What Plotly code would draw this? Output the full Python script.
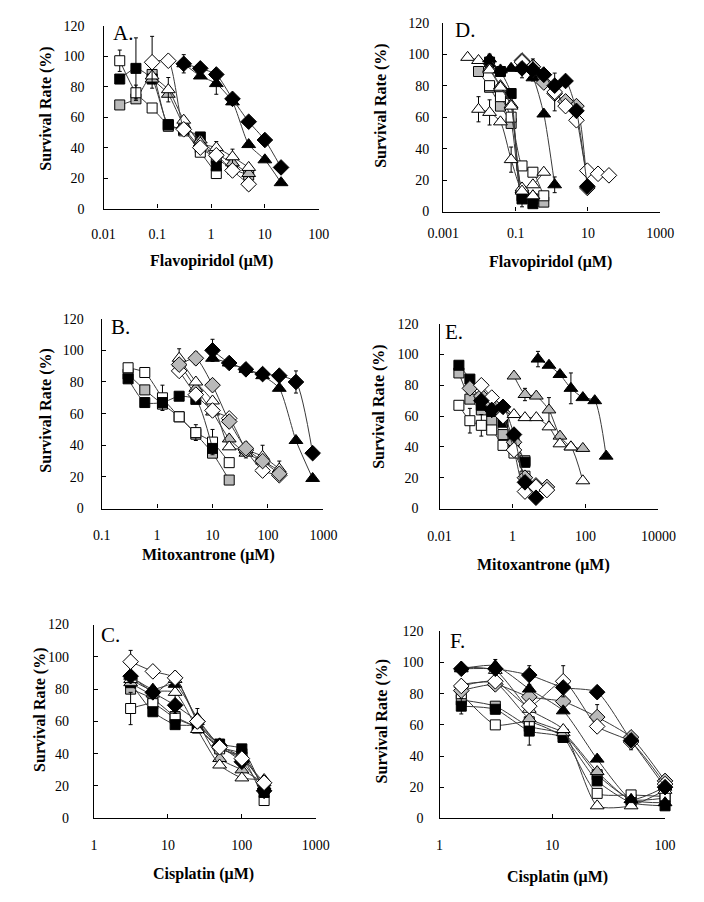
import plotly.graph_objects as go

W, H = 704, 902

# ---------------- data ----------------
# Panel A: Flavopiridol
A_conc = [0.02, 0.04, 0.08, 0.16, 0.31, 0.63, 1.25, 2.5, 5, 10, 20]
A_WS = [97, 76, 66, 55, 51, 37, 23, None, None, None, None]
A_BS = [85, 92, 85, 55, 52, 47, 28, None, None, None, None]
A_GS = [68, 72, 88, 54, 52, 40, 33, 26, 22, None, None]
A_WT = [None, None, 87, 78, 58, 43, 40, 34, 27, None, None]
A_GT = [None, None, 85, 75, 55, 45, 36, 30, 23, None, None]
A_WD = [None, None, 96, 97, 52, 40, 35, 25, 16, None, None]
A_BT = [None, None, None, None, 95, 87, 82, 70, 42, 32, 17]
A_BD = [None, None, None, None, 95, 92, 88, 72, 57, 45, 27]
A_WS_err = [7, 5, 0, 0, 0, 0, 0, 0, 0, 0, 0]
A_BS_err = [0, 20, 0, 0, 0, 0, 0, 0, 0, 0, 0]
A_WD_err = [0, 0, 17, 0, 0, 0, 0, 0, 4, 0, 0]
A_WT_err = [0, 0, 0, 8, 0, 6, 4, 5, 0, 0, 0]
A_BT_err = [0, 0, 0, 0, 6, 0, 7, 0, 0, 0, 0]

# Panel D: Flavopiridol
D_conc = [0.0047, 0.0094, 0.019, 0.038, 0.075, 0.15, 0.3, 0.6, 1.2, 2.4, 4.8, 9.6, 19, 38]
D_WT = [98, 96, 90, 79, 67, 15, 17, 25, None, None, None, None, None, None]
D_WT2 = [None, 65, 63, 57, 33, 13, 10, None, None, None, None, None, None, None]
D_GS = [None, 89, 79, 67, 56, 10, 8, 6, None, None, None, None, None, None]
D_WS = [None, None, 80, 73, 60, 29, 25, 10, None, None, None, None, None, None]
D_BS = [None, None, 95, 89, 75, 8, 5, None, None, None, None, None, None, None]
D_GT = [None, None, 91, 80, 68, 14, 10, None, None, None, None, None, None, None]
D_BT = [None, None, 97, 90, 91, 91, 85, 62, 17, None, None, None, None, None]
D_BD = [None, None, None, None, None, 91, 90, 87, 80, 83, 64, 16, None, None]
D_GD = [None, None, None, None, None, 96, 92, 82, 75, 70, 67, 15, None, None]
D_WD = [None, None, None, None, None, 95, 90, 87, 76, 67, 58, 26, 24, 23]
D_WT2_err = [0, 8, 8, 0, 8, 0, 0, 0, 0, 0, 0, 0, 0, 0]
D_BT_err = [0, 0, 3, 0, 0, 6, 0, 0, 5, 0, 0, 0, 0, 0]
D_WD_err = [0, 0, 0, 0, 0, 0, 7, 0, 12, 0, 0, 0, 0, 0]
D_BS_err = [0, 0, 0, 0, 0, 5, 0, 0, 0, 0, 0, 0, 0, 0]

# Panel B: Mitoxantrone
B_conc = [0.3, 0.6, 1.25, 2.5, 5, 10, 20, 40, 80, 160, 320, 640]
B_WS = [89, 86, 70, 58, 48, 42, 29, None, None, None, None, None]
B_BS = [82, 67, 67, 71, 69, 38, None, None, None, None, None, None]
B_GS = [85, 75, 66, 58, 47, 35, 18, None, None, None, None, None]
B_WT = [None, None, None, 95, 80, 68, 39, 37, 33, 25, None, None]
B_GT = [None, None, None, 92, 76, 61, 44, 35, 30, 24, None, None]
B_WD = [None, None, None, 87, 72, 62, 57, 37, 24, 21, None, None]
B_GD = [None, None, None, 91, 95, 78, 55, 38, 30, 22, None, None]
B_BD = [None, None, None, None, None, 100, 92, 88, 85, 84, 80, 35]
B_BT = [None, None, None, None, None, 95, 92, 88, 84, 76, 43, 19]
B_WS_err = [0, 0, 8, 0, 5, 8, 0, 0, 0, 0, 0, 0]
B_WT_err = [0, 0, 0, 6, 0, 0, 0, 5, 7, 5, 0, 0]
B_GD_err = [0, 0, 0, 0, 4, 0, 0, 0, 0, 0, 0, 0]
B_BD_err = [0, 0, 0, 0, 0, 7, 0, 0, 0, 0, 7, 0]

# Panel E: Mitoxantrone
E_conc_low = [0.034, 0.068, 0.14, 0.27, 0.55, 1.1, 2.2, 4.4, 8.8]
E_conc_tri = [1.1, 2.2, 4.5, 10, 20, 40, 85]
E_conc_bt = [5, 10, 20, 40, 85, 180, 370]
E_BS = [93, 84, 67, 63, 56, 46, 30, None, None]
E_GS = [88, 71, 64, 57, 48, 42, 31, None, None]
E_WS = [67, 57, 54, 51, 41, 36, 21, None, None]
E_BD = [None, None, 70, 64, 66, 48, 17, 7, None]
E_WD = [None, None, 80, 72, 60, 38, 11, 14, 12]
E_GD = [None, 78, 73, 68, 62, 43, 20, 15, 14]
E_WT = [61, 59, 59, 53, 42, 40, 18]
E_GT = [86, 74, 73, 64, 47, 40, 39]
E_BT = [97, 93, 87, 78, 72, 70, 34]
E_WS_err = [0, 8, 7, 0, 0, 0, 0, 0, 0]
E_GT_err = [0, 4, 0, 8, 0, 0, 0]
E_BT_err = [5, 0, 0, 10, 0, 0, 0]

# Panel C: Cisplatin
C_conc = [3.125, 6.25, 12.5, 25, 50, 100, 200]
C_WD = [97, 91, 87, 60, 44, 37, 22]
C_WS = [68, 71, 62, 56, 43, 38, 11]
C_BS = [84, 66, 58, 57, 46, 43, 16]
C_GS = [80, 74, 63, 56, 44, 40, 18]
C_BT = [88, 80, 83, 62, 45, 38, 20]
C_WT = [86, 79, 78, 55, 33, 25, 24]
C_GT = [84, 77, 86, 60, 37, 30, 22]
C_BD = [88, 78, 70, 60, 45, 35, 17]
C_WD_err = [7, 0, 0, 0, 0, 0, 0]
C_WS_err = [10, 0, 0, 0, 0, 0, 0]
C_WT_err = [0, 0, 13, 0, 0, 0, 0]
C_BT_err = [0, 0, 0, 6, 0, 0, 6]

# Panel F: Cisplatin
F_conc = [1.56, 3.125, 6.25, 12.5, 25, 50, 100]
F_BD = [96, 96, 92, 84, 81, 50, 20]
F_BT = [96, 98, 83, 69, 38, 12, 10]
F_WD = [85, 88, 72, 88, 59, 49, 22]
F_GD = [82, 86, 78, 75, 65, 52, 24]
F_BS = [72, 70, 56, 52, 24, 10, 8]
F_GS = [76, 72, 59, 54, 28, 12, 13]
F_WS = [80, 60, 62, 52, 16, 15, 14]
F_WT = [97, 95, 70, 57, 8, 8, 18]
F_GT = [86, 87, 64, 55, 30, 12, 20]
F_BT_err = [0, 4, 0, 0, 0, 0, 0]
F_BD_err = [0, 0, 6, 0, 0, 0, 0]
F_WD_err = [0, 0, 0, 10, 0, 5, 0]
F_BS_err = [5, 0, 9, 0, 0, 0, 0]
F_GD_err = [0, 0, 0, 0, 8, 0, 0]

# ---------------- styling ----------------
GRAY = "#b9b9b9"
STYLE = {
    "WS": ("square", "white", 10), "GS": ("square", GRAY, 10), "BS": ("square", "black", 10),
    "WT": ("triangle-up", "white", 12), "GT": ("triangle-up", GRAY, 12), "BT": ("triangle-up", "black", 12),
    "WD": ("diamond", "white", 12), "GD": ("diamond", GRAY, 12), "BD": ("diamond", "black", 12),
}

panels = [
    dict(name="A", x0=92, x1=318, yb=205, yt=19, rng=[-2, 2], tv=[0.01, 0.1, 1, 10, 100],
         tt=["0.01", "0.1", "1", "10", "100"], xt="Flavopiridol (μM)", xtpos=(205, 258), ytpos=(32, 103),
         letter=(100, 26), ystand=15, xstand=12,
         series=[(A_conc, A_GS, "GS", None), (A_conc, A_WS, "WS", A_WS_err), (A_conc, A_BS, "BS", A_BS_err),
                 (A_conc, A_GT, "GT", None), (A_conc, A_WT, "WT", A_WT_err), (A_conc, A_WD, "WD", A_WD_err),
                 (A_conc, A_BT, "BT", A_BT_err), (A_conc, A_BD, "BD", None)]),
    dict(name="D", x0=449, x1=677, yb=208, yt=16, rng=[-3, 3], tv=[0.001, 0.1, 10, 1000],
         tt=["0.001", "0.1", "10", "1000"], xt="Flavopiridol (μM)", xtpos=(562, 259), ytpos=(384, 100),
         letter=(459, 23), ystand=10, xstand=9,
         series=[(D_conc, D_GS, "GS", None), (D_conc, D_WS, "WS", None), (D_conc, D_BS, "BS", D_BS_err),
                 (D_conc, D_GT, "GT", None), (D_conc, D_WT, "WT", None), (D_conc, D_WT2, "WT", D_WT2_err),
                 (D_conc, D_BT, "BT", D_BT_err), (D_conc, D_GD, "GD", None), (D_conc, D_WD, "WD", D_WD_err),
                 (D_conc, D_BD, "BD", None)]),
    dict(name="B", x0=90, x1=323, yb=510, yt=317, rng=[-1, 3], tv=[0.1, 1, 10, 100, 1000],
         tt=["0.1", "1", "10", "100", "1000"], xt="Mitoxantrone (μM)", xtpos=(202, 557), ytpos=(32, 410),
         letter=(98, 325), ystand=14, xstand=14,
         series=[(B_conc, B_GS, "GS", None), (B_conc, B_WS, "WS", B_WS_err), (B_conc, B_BS, "BS", None),
                 (B_conc, B_GT, "GT", None), (B_conc, B_WT, "WT", B_WT_err), (B_conc, B_WD, "WD", None),
                 (B_conc, B_GD, "GD", B_GD_err), (B_conc, B_BT, "BT", None), (B_conc, B_BD, "BD", B_BD_err)]),
    dict(name="E", x0=445, x1=675, yb=510, yt=322, rng=[-2, 4], tv=[0.01, 1, 100, 10000],
         tt=["0.01", "1", "100", "10000"], xt="Mitoxantrone (μM)", xtpos=(554, 567), ytpos=(382, 407),
         letter=(449, 331), ystand=17, xstand=15,
         series=[(E_conc_low, E_GS, "GS", None), (E_conc_low, E_WS, "WS", E_WS_err), (E_conc_low, E_BS, "BS", None),
                 (E_conc_low, E_GD, "GD", None), (E_conc_low, E_WD, "WD", None), (E_conc_low, E_BD, "BD", None),
                 (E_conc_tri, E_GT, "GT", E_GT_err), (E_conc_tri, E_WT, "WT", None), (E_conc_bt, E_BT, "BT", E_BT_err)]),
    dict(name="C", x0=82, x1=315, yb=825, yt=628, rng=[0, 3], tv=[1, 10, 100, 1000],
         tt=["1", "10", "100", "1000"], xt="Cisplatin (μM)", xtpos=(197, 882), ytpos=(25, 715),
         letter=(87, 639), ystand=21, xstand=14,
         series=[(C_conc, C_GS, "GS", None), (C_conc, C_WS, "WS", C_WS_err), (C_conc, C_BS, "BS", None),
                 (C_conc, C_GT, "GT", None), (C_conc, C_WT, "WT", C_WT_err), (C_conc, C_BT, "BT", C_BT_err),
                 (C_conc, C_BD, "BD", None), (C_conc, C_WD, "WD", C_WD_err)]),
    dict(name="F", x0=445, x1=682, yb=825, yt=635, rng=[0, 2], tv=[1, 10, 100],
         tt=["1", "10", "100"], xt="Cisplatin (μM)", xtpos=(569, 885), ytpos=(384, 726),
         letter=(454, 645), ystand=12, xstand=14,
         series=[(F_conc, F_GS, "GS", None), (F_conc, F_WS, "WS", None), (F_conc, F_BS, "BS", F_BS_err),
                 (F_conc, F_GT, "GT", None), (F_conc, F_WT, "WT", None), (F_conc, F_GD, "GD", F_GD_err),
                 (F_conc, F_WD, "WD", F_WD_err), (F_conc, F_BT, "BT", F_BT_err), (F_conc, F_BD, "BD", F_BD_err)]),
]

FONT = "Liberation Serif, Times New Roman, serif"
fig = go.Figure()
annotations = []
layout = dict(width=W, height=H, margin=dict(l=0, r=0, t=0, b=0), paper_bgcolor="white",
              plot_bgcolor="rgba(0,0,0,0)", showlegend=False, font=dict(family=FONT, color="black"))

for i, p in enumerate(panels):
    n = "" if i == 0 else str(i + 1)
    xa, ya = "xaxis" + n, "yaxis" + n
    layout[xa] = dict(type="log", range=p["rng"], domain=[p["x0"] / W, p["x1"] / W], anchor="y" + n,
                      showline=True, linecolor="black", linewidth=1.3, ticks="inside", ticklen=4,
                      tickcolor="black", tickvals=p["tv"], ticktext=p["tt"], showgrid=False, zeroline=False,
                      tickfont=dict(family=FONT, size=14, color="black"), ticklabelstandoff=p["xstand"])
    layout[ya] = dict(range=[0, 120], domain=[1 - p["yb"] / H, 1 - p["yt"] / H], anchor="x" + n,
                      showline=True, linecolor="black", linewidth=1.3, ticks="inside", ticklen=4,
                      tickcolor="black", tickvals=[0, 20, 40, 60, 80, 100, 120], showgrid=False, zeroline=False,
                      tickfont=dict(family=FONT, size=14, color="black"), ticklabelstandoff=p["ystand"])
    for xs, ys, key, err in p["series"]:
        sym, fill, size = STYLE[key]
        ed = None
        if err is not None:
            ed = dict(type="data", array=[e or 0 for e in err], visible=True, color="black",
                      thickness=1, width=2)
        fig.add_trace(go.Scatter(
            x=xs, y=ys, xaxis="x" + n, yaxis="y" + n, mode="lines+markers",
            line=dict(color="#3a3a3a", width=1, shape="spline", smoothing=0.6),
            marker=dict(symbol=sym, size=size, color=fill, line=dict(color="black", width=1)),
            error_y=ed, cliponaxis=False))
    annotations.append(dict(text=p["name"] + ".", x=p["letter"][0] / W, y=1 - p["letter"][1] / H,
                            xref="paper", yref="paper", xanchor="left", yanchor="middle", showarrow=False,
                            font=dict(family=FONT, size=21, color="black")))
    annotations.append(dict(text="<b>" + p["xt"] + "</b>", x=p["xtpos"][0] / W, y=1 - p["xtpos"][1] / H,
                            xref="paper", yref="paper", xanchor="center", yanchor="middle", showarrow=False,
                            font=dict(family=FONT, size=16, color="black")))
    annotations.append(dict(text="<b>Survival Rate (%)</b>", x=p["ytpos"][0] / W, y=1 - p["ytpos"][1] / H,
                            xref="paper", yref="paper", xanchor="center", yanchor="middle", showarrow=False,
                            textangle=-90, font=dict(family=FONT, size=16, color="black")))

layout["annotations"] = annotations
fig.update_layout(**layout)
fig.write_html("out.html", config={"displayModeBar": False},
               post_script="document.body.style.margin='0';")
